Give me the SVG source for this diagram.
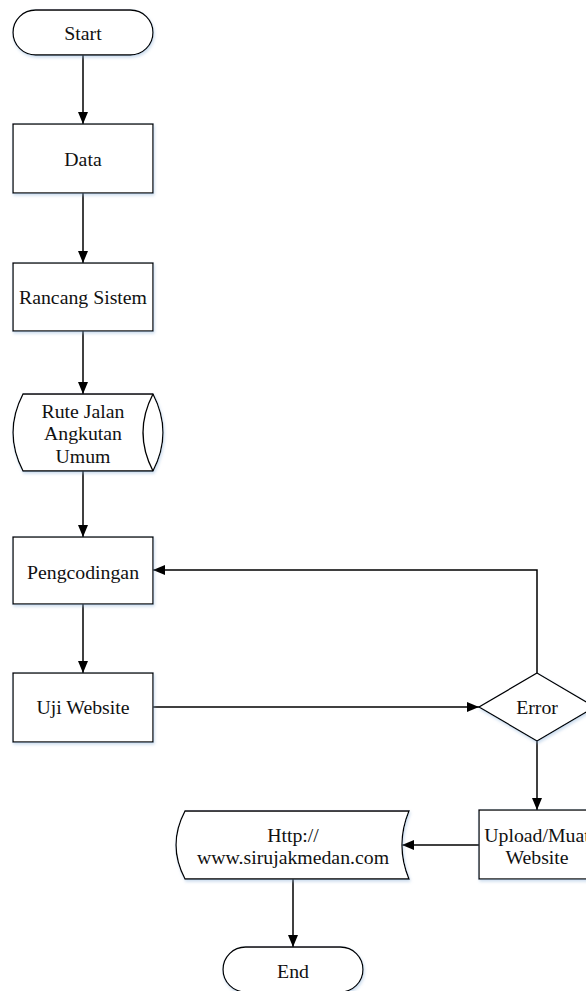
<svg xmlns="http://www.w3.org/2000/svg" width="586" height="991" viewBox="0 0 586 991">
<defs>
<marker id="arr" viewBox="0 0 12 10" refX="12" refY="5" markerWidth="12" markerHeight="10" markerUnits="userSpaceOnUse" orient="auto">
<path d="M0,0 L12,5 L0,10 z" fill="#000"/>
</marker>
<filter id="sh" x="-10%" y="-10%" width="130%" height="140%">
<feDropShadow dx="1" dy="2" stdDeviation="1.5" flood-color="#8fb3d9" flood-opacity="0.45"/>
</filter>
</defs>
<style>
.s{fill:#fff;stroke:#000;stroke-width:1.3;filter:url(#sh)}
.t{font-family:"Liberation Serif","Times New Roman",serif;font-size:19.8px;fill:#111;text-anchor:middle;dominant-baseline:central}
.c{fill:none;stroke:#000;stroke-width:1.5;marker-end:url(#arr)}
.l{fill:none;stroke:#000;stroke-width:1.5}
</style>
<rect width="586" height="991" fill="#fff"/>
<g id="connectors">
<path class="c" d="M83,55 V124"/>
<path class="c" d="M83,193 V263"/>
<path class="c" d="M83,331 V394"/>
<path class="c" d="M83,471 V537"/>
<path class="c" d="M83,604 V673"/>
<path class="c" d="M153,707 H479"/>
<path class="c" d="M537,673 V570 H153"/>
<path class="c" d="M537,741 V810"/>
<path class="c" d="M479,845 H402"/>
<path class="c" d="M293,879 V947"/>
</g>
<g id="start">
<rect class="s" x="13" y="10" width="140" height="45" rx="22.5"/>
<text class="t" x="83" y="33">Start</text>
</g>
<g id="data">
<rect class="s" x="13" y="124" width="140" height="69"/>
<text class="t" x="83" y="159">Data</text>
</g>
<g id="rancang">
<rect class="s" x="13" y="263" width="140" height="68"/>
<text class="t" x="83" y="297">Rancang Sistem</text>
</g>
<g id="rute">
<path class="s" d="M23,394 H153 Q173,432.5 153,471 H23 Q3,432.5 23,394 z"/>
<path class="l" style="stroke-width:1.3" d="M153,394 Q133,432.5 153,471"/>
<text class="t" x="83" y="411">Rute Jalan</text>
<text class="t" x="83" y="433">Angkutan</text>
<text class="t" x="83" y="456">Umum</text>
</g>
<g id="pengcodingan">
<rect class="s" x="13" y="537" width="140" height="67"/>
<text class="t" x="83" y="572">Pengcodingan</text>
</g>
<g id="uji">
<rect class="s" x="13" y="673" width="140" height="69"/>
<text class="t" x="83" y="707">Uji Website</text>
</g>
<g id="error">
<path class="s" d="M537,673 L595,707 L537,741 L479,707 z"/>
<text class="t" x="537" y="707">Error</text>
</g>
<g id="upload">
<rect class="s" x="479" y="810" width="116" height="69"/>
<text class="t" x="537" y="835">Upload/Muat</text>
<text class="t" x="537" y="857">Website</text>
</g>
<g id="website">
<path class="s" d="M185,811 H409 Q395,845 409,879 H185 Q167,845 185,811 z"/>
<text class="t" x="293" y="835">Http://</text>
<text class="t" x="293" y="857">www.sirujakmedan.com</text>
</g>
<g id="end">
<rect class="s" x="223" y="947" width="140" height="45" rx="22.5"/>
<text class="t" x="293" y="971">End</text>
</g>
</svg>
